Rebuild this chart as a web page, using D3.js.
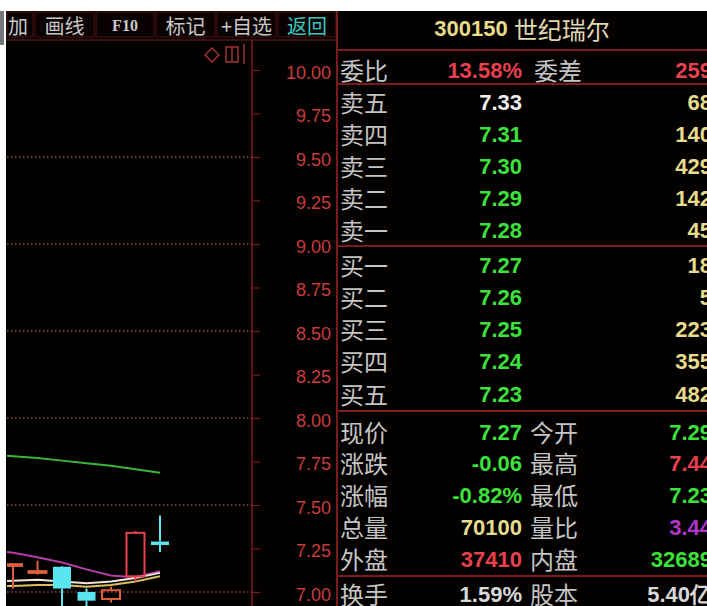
<!DOCTYPE html>
<html><head><meta charset="utf-8">
<script src="https://cdn.jsdelivr.net/npm/d3@7"></script>
<style>
html,body{margin:0;padding:0;background:#fff;overflow:hidden;}
svg{display:block;}
</style></head>
<body>
<svg id="c" width="707" height="606"></svg>
<script>
// ---------- data ----------
const toolbarLabels = ["加", "画线", "F10", "标记", "+自选", "返回"];
const stockTitleCode = "300150";
const stockTitleName = "世纪瑞尔";
const priceTicks = [10.00, 9.75, 9.50, 9.25, 9.00, 8.75, 8.50, 8.25, 8.00, 7.75, 7.50, 7.25, 7.00];
const gridLevels = [9.5, 9.0, 8.5, 8.0, 7.5, 7.0];
const dayIndex = [0, 1, 2, 3, 4, 5, 6];
const opens  = [7.15, 7.11, 7.145, 7.00, 6.96, 7.09, 7.29];
const highs  = [7.16, 7.18, 7.15, 7.02, 7.03, 7.35, 7.44];
const lows   = [7.02, 7.10, 6.90, 6.90, 6.94, 7.06, 7.23];
const closes = [7.16, 7.12, 7.02, 6.95, 7.01, 7.34, 7.27];
const maIndex = [-1, 0, 1, 2, 3, 4, 5, 6];
const maGreen   = [7.79, 7.78, 7.77, 7.755, 7.74, 7.725, 7.705, 7.685];
const maMagenta = [7.245, 7.225, 7.20, 7.17, 7.13, 7.095, 7.085, 7.12];
const maWhite   = [7.06, 7.065, 7.07, 7.06, 7.05, 7.06, 7.08, 7.11];
const maYellow  = [7.03, 7.035, 7.04, 7.04, 7.03, 7.04, 7.06, 7.09];

const weiLabels = ["委比", "委差"];
const weiValues = ["13.58%", "259"];
const sellLabels = ["卖五", "卖四", "卖三", "卖二", "卖一"];
const sellPrices = ["7.33", "7.31", "7.30", "7.29", "7.28"];
const sellVols   = ["68", "140", "429", "142", "45"];
const buyLabels  = ["买一", "买二", "买三", "买四", "买五"];
const buyPrices  = ["7.27", "7.26", "7.25", "7.24", "7.23"];
const buyVols    = ["18", "5", "223", "355", "482"];
const statLabelsL = ["现价", "涨跌", "涨幅", "总量", "外盘", "换手"];
const statValuesL = ["7.27", "-0.06", "-0.82%", "70100", "37410", "1.59%"];
const statLabelsR = ["今开", "最高", "最低", "量比", "内盘", "股本"];
const statValuesR = ["7.29", "7.44", "7.23", "3.44", "32689", "5.40亿"];

// ---------- styles ----------
const C = {
  frame: "#7a1a1a", axisTxt: "#c83c3c", grid: "#8a4646",
  label: "#c4c4c4", green: "#3ce23c", red: "#e8404e", yellow: "#e6dc8c",
  white: "#f0f0f0", purple: "#b436c8", cyan: "#5ae6f0", teal: "#3cc8c0"
};
const statColL = [C.green, C.green, C.green, C.yellow, C.red, "#d8d8d8"];
const statColR = [C.green, C.red, C.green, C.purple, C.green, "#d8d8d8"];
const sellCol = [C.white, C.green, C.green, C.green, C.green];
const NUM = "'Liberation Sans', Arial, sans-serif";
const CJK = "'Noto Sans CJK SC', sans-serif";

const svg = d3.select("#c");
svg.append("rect").attr("x",0).attr("y",0).attr("width",707).attr("height",606).attr("fill","#fff");
svg.append("rect").attr("x",6).attr("y",11).attr("width",701).attr("height",595).attr("fill","#030000");
svg.append("rect").attr("x",0).attr("y",11).attr("width",4).attr("height",34).attr("fill","#777");

// ---------- toolbar ----------
const tbEdges = [6, 34, 95, 155, 216, 277, 337];
const tb = svg.append("g");
toolbarLabels.forEach((t, i) => {
  const x0 = tbEdges[i], x1 = tbEdges[i+1];
  tb.append("rect").attr("x", x0+1).attr("y", 12).attr("width", x1-x0-2).attr("height", 25)
    .attr("fill", "#0a0202").attr("stroke", "#4a1212").attr("stroke-width", 1);
  tb.append("text").attr("x", i === 0 ? 8 : (x0+x1)/2).attr("y", 25)
    .attr("text-anchor", i === 0 ? "start" : "middle").attr("dominant-baseline","central")
    .attr("font-family", t === "F10" ? "'Liberation Serif', serif" : CJK)
    .attr("font-size", t === "F10" ? 16 : 20).attr("font-weight", t === "F10" ? "bold" : "normal")
    .attr("fill", t === "返回" ? C.teal : "#c8c8c8").text(t);
});

// ---------- chart ----------
const y = d3.scaleLinear().domain([7.0, 10.0]).range([592, 70]);
const x = d3.scaleLinear().domain([0, 6]).range([13, 160]);
const axisX = 252;

svg.append("line").attr("x1",6).attr("x2",337).attr("y1",40).attr("y2",40).attr("stroke",C.frame);
svg.append("line").attr("x1",axisX).attr("x2",axisX).attr("y1",40).attr("y2",606).attr("stroke",C.frame).attr("stroke-width",1.5);

const axisG = svg.append("g").attr("transform", `translate(${axisX},0)`)
  .call(d3.axisRight(y).tickValues(priceTicks).tickSize(8).tickFormat(d3.format(".2f")));
axisG.select(".domain").remove();
axisG.selectAll(".tick line").attr("stroke", C.frame).attr("stroke-width",1.2);
axisG.selectAll(".tick text").attr("x", 79).attr("dy","0.45em").attr("text-anchor","end")
  .attr("fill", C.axisTxt).attr("font-family", NUM).attr("font-size", 18);

// grid
svg.append("g").selectAll("line").data(gridLevels).join("line")
  .attr("x1", 7).attr("x2", axisX).attr("y1", d => y(d)).attr("y2", d => y(d))
  .attr("stroke", C.grid).attr("stroke-dasharray","1.5,2.5").attr("stroke-width",1.5);

// icons top-right of chart
const ic = svg.append("g").attr("stroke","#a03232").attr("fill","none").attr("stroke-width",1.5);
ic.append("path").attr("d","M212,48 L219,55 L212,62 L205,55 Z");
ic.append("rect").attr("x",226).attr("y",47).attr("width",12).attr("height",15);
ic.append("line").attr("x1",232).attr("x2",232).attr("y1",47).attr("y2",62);
ic.append("line").attr("x1",244).attr("x2",244).attr("y1",44).attr("y2",64);

svg.append("clipPath").attr("id","cp").append("rect").attr("x",7).attr("y",41).attr("width",axisX-8).attr("height",565);
const plot = svg.append("g").attr("clip-path","url(#cp)");

const lineGen = vals => d3.line().x((d,i) => x(maIndex[i])).y(d => y(d))(vals);
[[maGreen,"#3cb43c"],[maMagenta,"#b83ca8"],[maYellow,"#d8c060"],[maWhite,"#f0e6d8"]].forEach(([v,c]) => {
  plot.append("path").attr("d", lineGen(v)).attr("fill","none").attr("stroke",c).attr("stroke-width",2);
});

const bw = 18;
dayIndex.forEach(i => {
  const o = opens[i], h = highs[i], l = lows[i], c = closes[i];
  const cx = x(i);
  const up = c >= o;
  const col = up ? (i < 5 ? "#e0603c" : C.red) : C.cyan;
  const top = y(Math.max(o,c)), bot = y(Math.min(o,c));
  const g = plot.append("g");
  g.append("line").attr("x1",cx).attr("x2",cx).attr("y1",y(h)).attr("y2",top).attr("stroke",col).attr("stroke-width",2);
  g.append("line").attr("x1",cx).attr("x2",cx).attr("y1",bot).attr("y2",y(l)).attr("stroke",col).attr("stroke-width",2);
  if (up) {
    g.append("rect").attr("x",cx-bw/2).attr("y",top).attr("width",bw).attr("height",Math.max(1,bot-top))
      .attr("fill","none").attr("stroke",col).attr("stroke-width",2);
  } else {
    g.append("rect").attr("x",cx-bw/2).attr("y",top).attr("width",bw).attr("height",Math.max(2,bot-top))
      .attr("fill",col);
  }
});

// ---------- right panel ----------
const P = svg.append("g");
P.append("line").attr("x1",337).attr("x2",337).attr("y1",11).attr("y2",606).attr("stroke",C.frame).attr("stroke-width",2);
[50, 84, 246, 411, 576].forEach(yy => {
  P.append("line").attr("x1",337).attr("x2",707).attr("y1",yy).attr("y2",yy).attr("stroke",C.frame).attr("stroke-width",2);
});
const title = P.append("text").attr("x",522).attr("y",28).attr("text-anchor","middle").attr("dominant-baseline","central");
title.append("tspan").attr("font-family",NUM).attr("font-weight","bold").attr("font-size",22).attr("fill","#e8dc8c").text(stockTitleCode + " ");
title.append("tspan").attr("font-family",CJK).attr("font-size",24).attr("fill","#e0d8b0").text(stockTitleName);

const lbl = (xx, yy, t) => P.append("text").attr("x",xx).attr("y",yy).attr("dominant-baseline","central")
  .attr("font-family",CJK).attr("font-size",24).attr("fill",C.label).text(t);
const num = (xx, yy, t, col) => P.append("text").attr("x",xx).attr("y",yy+1).attr("dominant-baseline","central")
  .attr("text-anchor","end").attr("font-family",NUM).attr("font-weight","bold").attr("font-size",22)
  .attr("fill",col).text(t);

const VX = 712;
lbl(340, 69, weiLabels[0]); num(522, 69, weiValues[0], C.red);
lbl(534, 69, weiLabels[1]); num(VX, 69, weiValues[1], C.red);

const rowSell = d3.scaleLinear().domain([0,4]).range([101, 229]);
sellLabels.forEach((t,i) => { lbl(340, rowSell(i), t); num(522, rowSell(i), sellPrices[i], sellCol[i]); num(VX, rowSell(i), sellVols[i], C.yellow); });
const rowBuy = d3.scaleLinear().domain([0,4]).range([264, 393]);
buyLabels.forEach((t,i) => { lbl(340, rowBuy(i), t); num(522, rowBuy(i), buyPrices[i], C.green); num(VX, rowBuy(i), buyVols[i], C.yellow); });
const rowStat = d3.scaleLinear().domain([0,4]).range([431, 558]);
statLabelsL.forEach((t,i) => {
  const yy = i < 5 ? rowStat(i) : 593;
  lbl(340, yy, t); num(522, yy, statValuesL[i], statColL[i]);
  lbl(530, yy, statLabelsR[i]); num(VX, yy, statValuesR[i], statColR[i]);
});
</script>
</body></html>
